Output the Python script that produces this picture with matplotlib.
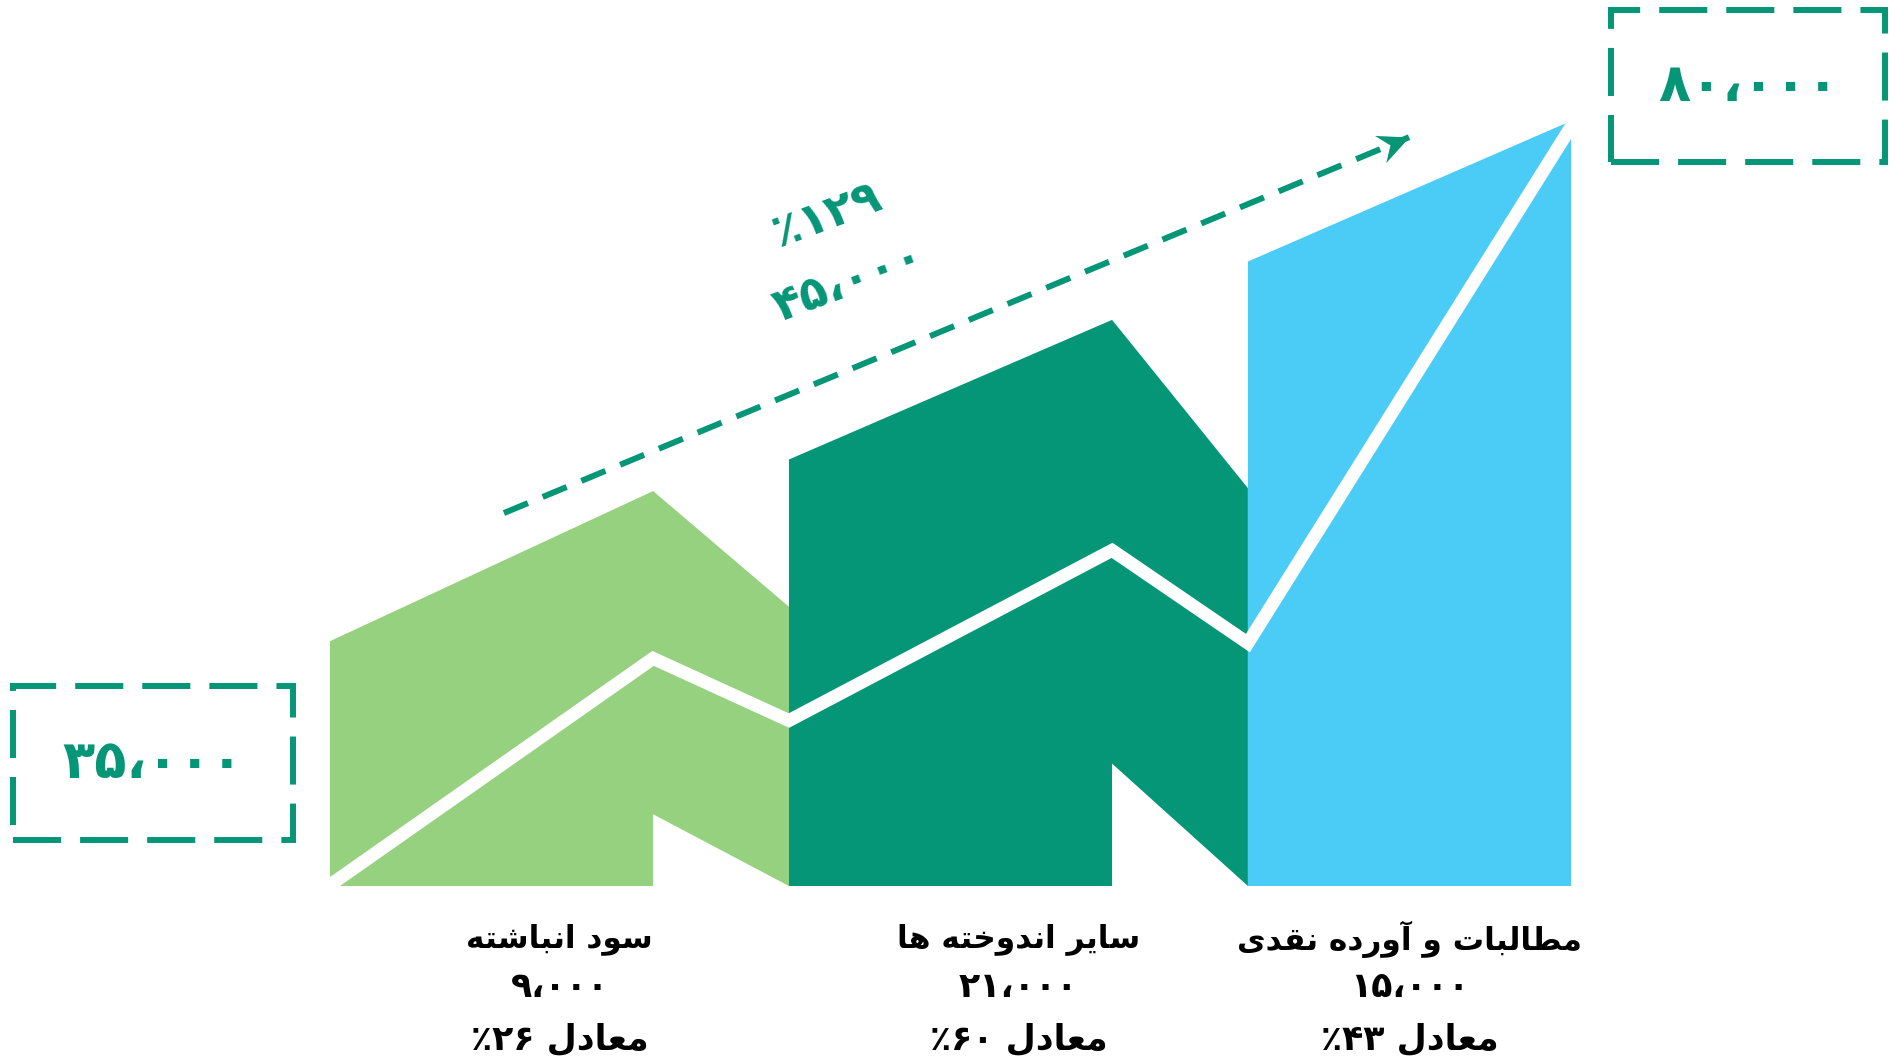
import matplotlib
matplotlib.use('Agg')
import numpy as np
import matplotlib.pyplot as plt
from matplotlib.patches import Polygon, Rectangle
from matplotlib.path import Path
from matplotlib.markers import MarkerStyle
from matplotlib.transforms import Affine2D

# ---------------- data ----------------
categories = ['سود انباشته', 'سایر اندوخته ها', 'مطالبات و آورده نقدی']
amounts = [9000, 21000, 15000]
shares = [26, 60, 43]
start_total = 35000
end_total = 80000
growth_amount = 45000
growth_pct = 129

# block outlines (x in block widths, y in thousands)
block_left = [0.0, 1.0, 2.0]
block_width = [1.0, 1.0, 0.704]
peak_offset = 0.704
top_left = [25.6, 44.6, 65.3]
top_peak = [41.3, 59.2, 80.0]
top_right = [29.2, 41.6, None]
notch_height = [7.5, 12.8, None]
trend_x = [0.0, 0.704, 1.0, 1.704, 2.0, 2.704]
trend_y = [0.1, 23.8, 17.3, 35.1, 25.4, 79.4]
arrow_x = [0.379, 2.351]
arrow_y = [39.0, 78.3]

colors = ['#96D17F', '#049677', '#4ACCF7']
teal = '#049677'

# ---------------- Persian text helpers ----------------
FORMS = {  # isolated, final, initial, medial
    '\u0627': ('\uFE8D', '\uFE8E', None, None),
    '\u0622': ('\uFE81', '\uFE82', None, None),
    '\u0628': ('\uFE8F', '\uFE90', '\uFE91', '\uFE92'),
    '\u062A': ('\uFE95', '\uFE96', '\uFE97', '\uFE98'),
    '\u062E': ('\uFEA5', '\uFEA6', '\uFEA7', '\uFEA8'),
    '\u062F': ('\uFEA9', '\uFEAA', None, None),
    '\u0631': ('\uFEAD', '\uFEAE', None, None),
    '\u0633': ('\uFEB1', '\uFEB2', '\uFEB3', '\uFEB4'),
    '\u0634': ('\uFEB5', '\uFEB6', '\uFEB7', '\uFEB8'),
    '\u0637': ('\uFEC1', '\uFEC2', '\uFEC3', '\uFEC4'),
    '\u0639': ('\uFEC9', '\uFECA', '\uFECB', '\uFECC'),
    '\u0642': ('\uFED5', '\uFED6', '\uFED7', '\uFED8'),
    '\u0644': ('\uFEDD', '\uFEDE', '\uFEDF', '\uFEE0'),
    '\u0645': ('\uFEE1', '\uFEE2', '\uFEE3', '\uFEE4'),
    '\u0646': ('\uFEE5', '\uFEE6', '\uFEE7', '\uFEE8'),
    '\u0647': ('\uFEE9', '\uFEEA', '\uFEEB', '\uFEEC'),
    '\u0648': ('\uFEED', '\uFEEE', None, None),
    '\u06CC': ('\uFBFC', '\uFBFD', '\uFBFE', '\uFBFF'),
}


def shape(word):
    out = []
    n = len(word)
    for i, ch in enumerate(word):
        f = FORMS.get(ch)
        if f is None:
            out.append(ch)
            continue
        prev = word[i - 1] if i > 0 else None
        nxt = word[i + 1] if i < n - 1 else None
        jp = prev in FORMS and FORMS[prev][2] is not None
        jn = nxt in FORMS and f[2] is not None
        if jp and jn:
            out.append(f[3])
        elif jp:
            out.append(f[1])
        elif jn:
            out.append(f[2])
        else:
            out.append(f[0])
    return ''.join(out)


NUMCH = '۰۱۲۳۴۵۶۷۸۹،'


def visual(text):
    runs = []
    for ch in text:
        isn = ch in NUMCH
        if runs and runs[-1][0] == isn:
            runs[-1][1].append(ch)
        else:
            runs.append([isn, [ch]])
    out = []
    for isn, chars in reversed(runs):
        s = ''.join(chars)
        out.append(s if isn else shape(s)[::-1])
    return ''.join(out)


FA = str.maketrans('0123456789,', '۰۱۲۳۴۵۶۷۸۹،')


def fa_num(v):
    return f'{v:,}'.translate(FA)


# ---------------- figure ----------------
plt.rcParams['font.family'] = ['DejaVu Sans']
plt.rcParams['lines.scale_dashes'] = False

W, H, DPI = 1890, 1063, 100
fig = plt.figure(figsize=(W / DPI, H / DPI), dpi=DPI)
ax = fig.add_axes([0, 0, 1, 1])
ax.set_xlim(-0.719, 3.399)
ax.set_ylim(-18.51, 92.65)
ax.axis('off')

for i, (x0, w) in enumerate(zip(block_left, block_width)):
    x1 = x0 + w
    xp = x0 + peak_offset
    if top_right[i] is None:
        verts = [(x0, 0), (x0, top_left[i]), (x1, top_peak[i]), (x1, 0)]
    else:
        verts = [(x0, 0), (x0, top_left[i]), (xp, top_peak[i]), (x1, top_right[i]),
                 (x1, 0), (xp, notch_height[i]), (xp, 0)]
    ax.add_patch(Polygon(verts, closed=True, facecolor=colors[i], edgecolor='none', zorder=1))

clip = Rectangle((block_left[0], 0), block_left[-1] + block_width[-1] - block_left[0], 100,
                 transform=ax.transData)
ln, = ax.plot(trend_x, trend_y, color='white', lw=9.4, solid_capstyle='projecting',
              solid_joinstyle='miter', zorder=2)
ln.set_clip_path(clip)

# dashed growth arrow
ax.plot(arrow_x, arrow_y, color=teal, lw=4.3, dashes=(18.7, 11.5), dash_capstyle='butt', zorder=3)
fig.canvas.draw()
p0 = ax.transData.transform((arrow_x[0], arrow_y[0]))
p1 = ax.transData.transform((arrow_x[1], arrow_y[1]))
ang = np.degrees(np.arctan2(p1[1] - p0[1], p1[0] - p0[0]))
head = Path([(0, 0), (-1.0, 0.47), (-0.66, 0), (-1.0, -0.47), (0, 0)],
            [Path.MOVETO, Path.LINETO, Path.LINETO, Path.LINETO, Path.CLOSEPOLY])
ax.plot([arrow_x[1]], [arrow_y[1]], marker=MarkerStyle(head, transform=Affine2D().rotate_deg(ang)),
        markersize=45, color=teal, markeredgewidth=0, linestyle='none', zorder=4)

ax.text(1.083, 70.06, visual(fa_num(growth_pct) + '٪'), rotation=ang - 2, rotation_mode='anchor',
        ha='center', va='center', color=teal, fontsize=33, fontweight='bold')
ax.text(1.131, 63.06, visual(fa_num(growth_amount)), rotation=ang - 2, rotation_mode='anchor',
        ha='center', va='center', color=teal, fontsize=33, fontweight='bold')

# value boxes
box_style = dict(fill=False, edgecolor=teal, lw=4.3, linestyle=(0, (34.6, 13.7)), zorder=3)
ax.add_patch(Rectangle((-0.691, 4.81), 0.6104, 16.09, **box_style))
ax.add_patch(Rectangle((2.791, 75.7), 0.597, 15.9, **box_style))
ax.text(-0.386, 12.86, visual(fa_num(start_total)), ha='center', va='center', color=teal,
        fontsize=38, fontweight='bold')
ax.text(3.09, 83.65, visual(fa_num(end_total)), ha='center', va='center', color=teal,
        fontsize=38, fontweight='bold')

# category labels
for i, (x0, w) in enumerate(zip(block_left, block_width)):
    cx = x0 + w / 2
    ax.text(cx, -5.6, visual(categories[i]), ha='center', va='center', fontsize=22.5,
            fontweight='bold', color='black')
    ax.text(cx, -10.6, visual(fa_num(amounts[i])), ha='center', va='center', fontsize=25,
            fontweight='bold', color='black')
    ax.text(cx, -16.1, visual('معادل ' + fa_num(shares[i]) + '٪'), ha='center', va='center',
            fontsize=25, fontweight='bold', color='black')

fig.savefig('out.png', dpi=DPI, facecolor='white')
